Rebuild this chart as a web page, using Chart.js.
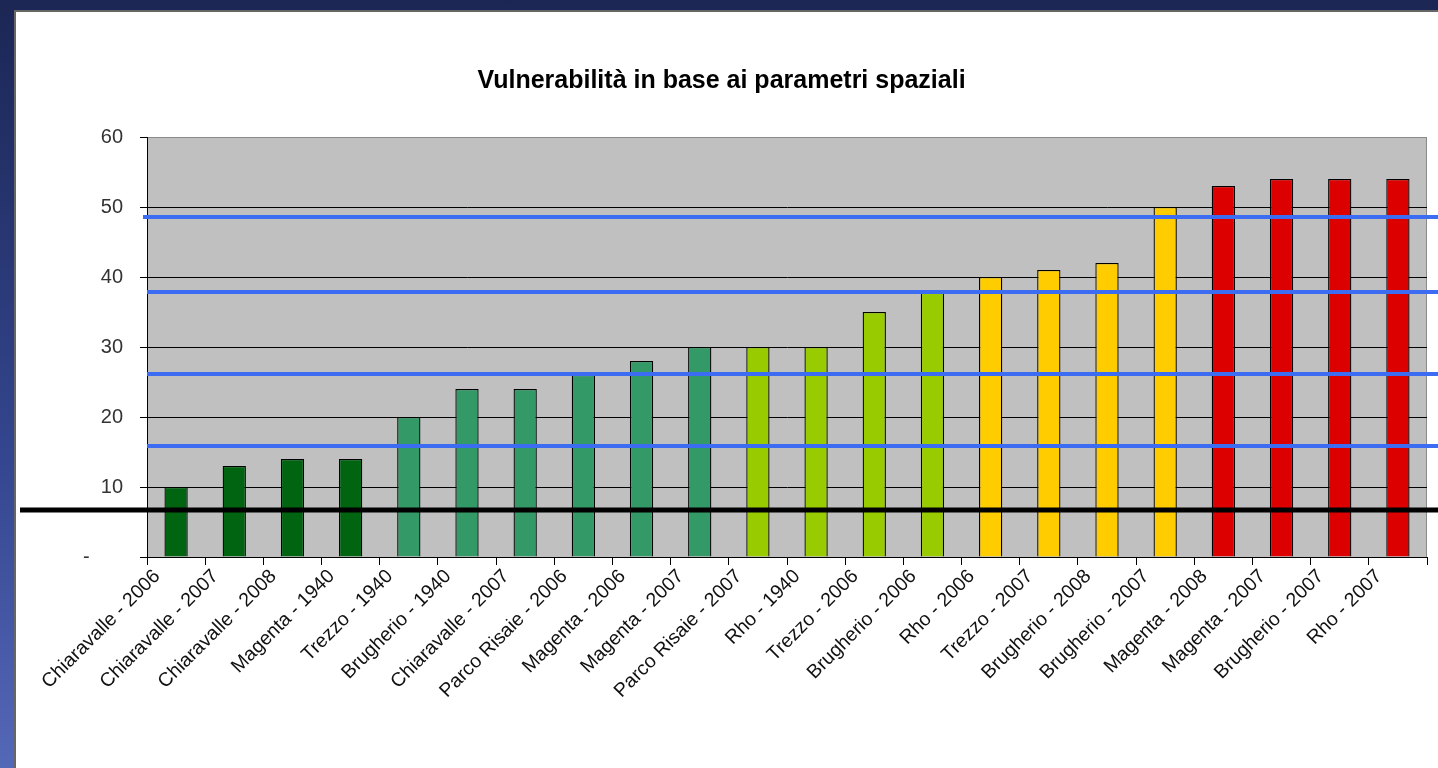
<!DOCTYPE html>
<html lang="it">
  <head>
    <meta charset="UTF-8" />
    <title>Vulnerabilità in base ai parametri spaziali</title>
    <script src="https://cdn.jsdelivr.net/npm/chart.js"></script>
    <style>
      html,
      body {
        margin: 0;
        padding: 0;
        width: 1438px;
        height: 768px;
        overflow: hidden;
      }

      body {
        position: relative;
        background: linear-gradient(to bottom, #1b2654 0%, #34468f 60%, #5468b8 100%);
      }

      #panel {
        position: absolute;
        left: 14px;
        top: 10px;
        width: 1424px;
        height: 758px;
        background: #fff;
        border-left: 2px solid #666;
        border-top: 2px solid #666;
        box-sizing: border-box;
      }

      #chart {
        position: absolute;
        left: 0;
        top: 0;
      }
    </style>
  </head>
  <body>
    <div id="panel">
      <canvas id="chart" width="1422" height="756"></canvas>
    </div>

    <script>
      // Sites and scores
      const sites = [
        "Chiaravalle - 2006",
        "Chiaravalle - 2007",
        "Chiaravalle - 2008",
        "Magenta - 1940",
        "Trezzo - 1940",
        "Brugherio - 1940",
        "Chiaravalle - 2007",
        "Parco Risaie - 2006",
        "Magenta - 2006",
        "Magenta - 2007",
        "Parco Risaie - 2007",
        "Rho - 1940",
        "Trezzo - 2006",
        "Brugherio - 2006",
        "Rho - 2006",
        "Trezzo - 2007",
        "Brugherio - 2008",
        "Brugherio - 2007",
        "Magenta - 2008",
        "Magenta - 2007",
        "Brugherio - 2007",
        "Rho - 2007",
      ];
      const scores = [10, 13, 14, 14, 20, 24, 24, 26, 28, 30, 30, 30, 35, 38, 40, 41, 42, 50, 53, 54, 54, 54];

      // Class limits (blue) and base level (black)
      const classLimits = [48.6, 37.9, 26.2, 15.8];
      const baseLevel = 6.7;

      const yTicks = [0, 10, 20, 30, 40, 50, 60];

      // Colour of each bar, by class
      const barColors = [
        "#006411", "#006411", "#006411", "#006411",
        "#339966", "#339966", "#339966", "#339966", "#339966", "#339966",
        "#99cc00", "#99cc00", "#99cc00", "#99cc00",
        "#ffcc00", "#ffcc00", "#ffcc00", "#ffcc00",
        "#dd0000", "#dd0000", "#dd0000", "#dd0000",
      ];

      Chart.defaults.font.family = '"Liberation Sans", Arial, sans-serif';
      Chart.defaults.color = "#222";

      // Gray plot area with a thin gray frame on top and right
      const plotBackground = {
        id: "plotBackground",
        beforeDraw(chart) {
          const { ctx, chartArea: a } = chart;
          ctx.save();
          ctx.fillStyle = "#c0c0c0";
          ctx.fillRect(a.left, a.top, a.right - a.left, a.bottom - a.top);
          ctx.strokeStyle = "#8a8a8a";
          ctx.lineWidth = 1;
          ctx.beginPath();
          ctx.moveTo(a.left, a.top + 0.5);
          ctx.lineTo(a.right - 0.5, a.top + 0.5);
          ctx.lineTo(a.right - 0.5, a.bottom);
          ctx.stroke();
          ctx.restore();
        },
      };

      // Horizontal level lines, running past the plot to the right edge
      const levelLines = {
        id: "levelLines",
        afterDatasetsDraw(chart) {
          const { ctx, chartArea: a, scales } = chart;
          const y = scales.y;
          ctx.save();
          ctx.lineWidth = 4;
          ctx.strokeStyle = "#3b6cf2";
          classLimits.forEach((v, i) => {
            const py = Math.round(y.getPixelForValue(v));
            ctx.beginPath();
            ctx.moveTo(a.left - (i === 0 ? 4 : 0), py);
            ctx.lineTo(chart.width, py);
            ctx.stroke();
          });
          ctx.lineWidth = 5;
          ctx.strokeStyle = "#000";
          const by = Math.round(y.getPixelForValue(baseLevel));
          ctx.beginPath();
          ctx.moveTo(4, by);
          ctx.lineTo(chart.width, by);
          ctx.stroke();
          ctx.restore();
        },
      };

      new Chart(document.getElementById("chart"), {
        type: "bar",
        data: {
          labels: sites,
          datasets: [
            {
              label: "Vulnerabilità",
              data: scores,
              backgroundColor: barColors,
              borderColor: "#000",
              borderWidth: 1.3,
              barPercentage: 0.4,
              categoryPercentage: 1,
            },
          ],
        },
        options: {
          responsive: false,
          animation: false,
          layout: { padding: { left: 0, right: 11, top: 0, bottom: 0 } },
          plugins: {
            legend: { display: false },
            tooltip: { enabled: false },
            title: {
              display: true,
              text: "Vulnerabilità in base ai parametri spaziali",
              color: "#000",
              font: { size: 25, weight: "bold" },
              padding: { top: 54, bottom: 41 },
            },
          },
          scales: {
            x: {
              offset: true,
              grid: {
                offset: true,
                drawOnChartArea: false,
                drawTicks: true,
                tickLength: 8,
                color: "#000",
              },
              border: { color: "#000" },
              ticks: {
                autoSkip: false,
                minRotation: 45,
                maxRotation: 45,
                labelOffset: -19,
                padding: 0,
                color: "#111",
                font: { size: 19.5 },
              },
              afterFit(scale) {
                scale.height = 211;
              },
            },
            y: {
              min: 0,
              max: 60,
              afterBuildTicks(scale) {
                scale.ticks = yTicks.map((v) => ({ value: v }));
              },
              ticks: {
                padding: 17,
                color: "#333",
                font: { size: 20 },
                callback: (v) => (v === 0 ? "-      " : v),
              },
              grid: {
                color: (c) => (c.tick && c.tick.value === 60 ? "#8a8a8a" : "#000"),
                tickColor: "#000",
                tickLength: 7,
              },
              border: { color: "#000" },
              afterFit(scale) {
                scale.width = 131;
              },
            },
          },
        },
        plugins: [plotBackground, levelLines],
      });
    </script>
  </body>
</html>
